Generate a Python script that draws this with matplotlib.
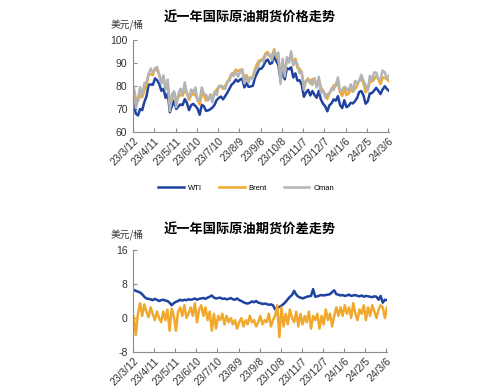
import matplotlib
matplotlib.use("Agg")
import matplotlib.pyplot as plt
import pandas as pd

plt.rcParams['font.family'] = ['Liberation Sans', 'Noto Sans CJK SC', 'DejaVu Sans']

# ---------------- data (sampled every 3 days from 2023-03-13) ----------------
start_date = "2023-03-13"

wti = [
    72.5, 68.0, 67.2, 70.0, 69.5, 73.0, 75.5,
    80.5, 80.7, 80.5, 83.3, 82.5, 80.9, 77.9, 78.8, 74.8, 76.8,
    68.6, 71.3, 73.7, 70.0, 71.1, 72.0, 71.7, 74.3, 72.7, 69.5,
    71.7, 72.2, 71.3, 70.2, 67.5, 71.8, 71.2, 69.2, 69.4, 69.9,
    70.6, 71.8, 73.9, 74.8, 75.4, 74.2, 75.6, 77.1, 78.8, 80.6,
    81.4, 82.8, 81.9, 82.8, 83.2, 79.4, 81.3, 79.6, 79.8, 80.1, 83.6,
    85.6, 87.5, 87.5, 88.8, 90.8, 91.5, 89.6, 90.0, 93.0, 90.8,
    89.2, 82.8, 86.4, 82.9, 87.7, 87.3, 88.1, 83.7, 85.5, 82.3,
    82.5, 80.5, 75.3, 77.2, 78.3, 75.9, 77.8, 76.1, 74.9, 77.9,
    74.1, 72.3, 71.2, 69.0, 71.6, 72.5, 74.2, 73.6, 75.6, 71.7,
    70.4, 73.8, 70.8, 71.4, 72.7, 72.4, 73.4, 74.8, 77.4, 77.8, 75.9,
    72.3, 73.3, 76.8, 76.9, 78.0, 79.2, 77.9, 76.5, 78.5,
    79.9, 78.7, 77.9,
]

brent_wti = [
    6.6, 6.4, 6.2, 6.0, 5.6, 5.0, 4.6,
    4.5, 4.4, 4.2, 4.5, 4.3, 4.0, 4.2, 4.3, 4.1, 4.0,
    3.6, 3.0, 3.5, 3.8, 4.0, 4.3, 4.1, 4.3, 4.2, 4.4,
    4.3, 4.4, 4.6, 4.3, 4.5, 4.6, 4.7, 4.5, 4.8, 5.0,
    5.3, 4.8, 4.6, 4.7, 4.8, 4.5, 4.6, 4.4, 4.5, 4.7,
    4.4, 4.3, 4.6, 4.2, 4.0, 3.7, 3.5, 3.4, 3.6, 3.9, 3.7,
    4.0, 3.6, 3.5, 3.3, 3.4, 3.3, 3.1, 3.2, 3.0, 2.0,
    2.4, 2.6, 2.9, 3.3, 3.8, 4.4, 5.0, 5.4, 6.4, 5.5,
    5.0, 4.8, 4.6, 4.8, 5.0, 5.1, 5.2, 6.8, 5.0, 5.1,
    5.3, 5.4, 5.3, 5.4, 5.5, 5.6, 6.1, 6.5, 5.6, 5.5,
    5.3, 5.4, 5.2, 5.3, 5.5, 5.2, 5.3, 5.4, 5.2, 5.1, 5.3,
    5.0, 5.2, 5.1, 5.0, 4.9, 5.1, 5.0, 4.3, 5.2,
    3.6, 4.3, 4.2,
]

oman_brent = [
    0.3, -4.0, 1.0, 3.5, 0.5, 3.2, 1.5,
    0.2, 2.5, 1.0, -0.5, 1.5, 0.0, -1.0, 1.5, -0.5, 2.0,
    -3.0, 2.2, 0.5, -3.0, 1.5, 2.5, 0.5, 3.0, 0.0, 1.0,
    2.5, 0.5, 3.5, -1.0, 2.0, 3.0, 0.5, 2.5, -0.5, 1.5,
    -3.0, 1.0, -2.5, 0.5, -0.5, 1.0, -1.5, 0.5, -1.0, 0.0,
    -1.5, -0.5, -2.5, -1.0, 0.0, -2.0, -0.5, -1.5, 0.5, -1.0, -0.5,
    -2.0, -1.0, 0.5, -1.5, -0.5, -1.0, 1.0, -2.0, -0.5, 0.5,
    3.0, -4.5, 2.5, -2.0, 1.0, -1.5, 2.0, 0.0, -1.0, 1.5,
    -2.0, 1.0, -1.5, 0.5, -1.0, 1.5, -2.5, 0.5, -0.5, 1.0,
    -2.5, 0.5, -1.5, 2.0, -0.5, 1.0, -2.0, 0.5, 2.5, 0.5,
    2.5, 0.5, 3.0, 1.0, 2.5, 0.0, 3.5, 1.0, -0.5, 2.0, 1.0,
    3.0, -0.5, 2.5, 0.5, 3.0, 1.5, 0.0, 2.0, 3.0,
    2.5, 0.0, 2.5,
]

tick_dates = ["2023-03-12", "2023-04-11", "2023-05-11", "2023-06-10", "2023-07-10",
              "2023-08-09", "2023-09-08", "2023-10-08", "2023-11-07", "2023-12-07",
              "2024-01-06", "2024-02-05", "2024-03-06"]
tick_labels = ["23/3/12", "23/4/11", "23/5/11", "23/6/10", "23/7/10", "23/8/9", "23/9/8",
               "23/10/8", "23/11/7", "23/12/7", "24/1/6", "24/2/5", "24/3/6"]

series_names = ["WTI", "Brent", "Oman"]
title_top = "近一年国际原油期货价格走势"
title_bottom = "近一年国际原油期货价差走势"
unit = "美元/桶"

# ---------------- derived ----------------
dates = pd.date_range(start_date, periods=len(wti), freq="3D")
brent = [w + s for w, s in zip(wti, brent_wti)]
oman = [b + s for b, s in zip(brent, oman_brent)]

C_WTI = "#1F43A0"
C_BRENT = "#F0A92E"
C_OMAN = "#B4B4B4"
AX_COL = "#8C8C8C"
CJK = ['Noto Sans CJK SC', 'DejaVu Sans']

fig = plt.figure(figsize=(4.99, 3.92), dpi=100)
fig.patch.set_facecolor("white")

ax1 = fig.add_axes([133/499, 1-132/392, 256/499, 92/392])
ax2 = fig.add_axes([133/499, 1-352/392, 254/499, 102/392])

xlim = (pd.Timestamp("2023-03-12"), pd.Timestamp("2024-03-07"))

def style(ax, yticks):
    for s in ["top", "right"]:
        ax.spines[s].set_visible(False)
    for s in ["left", "bottom"]:
        ax.spines[s].set_color(AX_COL)
        ax.spines[s].set_linewidth(0.8)
    ax.set_xlim(*xlim)
    ax.set_xticks(pd.to_datetime(tick_dates))
    ax.set_xticklabels(tick_labels, rotation=45, ha="right", rotation_mode="anchor",
                       fontsize=7.5, color="#333333")
    ax.set_yticks(yticks)
    ax.set_yticklabels([str(v) for v in yticks], fontsize=7.5, color="#333333")
    ax.set_ylim(yticks[0], yticks[-1])
    ax.tick_params(axis="both", direction="in", color=AX_COL, length=3, width=0.8)
    ax.tick_params(axis="x", pad=3)
    ax.tick_params(axis="y", pad=4)

ax1.plot(dates, wti, color=C_WTI, lw=1.8, label=series_names[0])
ax1.plot(dates, brent, color=C_BRENT, lw=1.8, label=series_names[1])
ax1.plot(dates, oman, color=C_OMAN, lw=1.8, label=series_names[2])
style(ax1, [60, 70, 80, 90, 100])

ax2.plot(dates, brent_wti, color=C_WTI, lw=1.8)
ax2.plot(dates, oman_brent, color=C_BRENT, lw=1.8)
style(ax2, [-8, 0, 8, 16])

fig.text(250/499, 1-18/392, title_top, ha="center", va="center", fontsize=9.5,
         fontweight="bold", family=CJK)
fig.text(250/499, 1-230/392, title_bottom, ha="center", va="center", fontsize=9.5,
         fontweight="bold", family=CJK)
fig.text(111/499, 1-25/392, unit, ha="left", va="center", fontsize=7, family=CJK,
         color="#333333")
fig.text(111/499, 1-235/392, unit, ha="left", va="center", fontsize=7, family=CJK,
         color="#333333")

fig.legend(loc="center", bbox_to_anchor=(246/499, 1-188/392), ncol=3, frameon=False,
           fontsize=5.5, handlelength=3.4, columnspacing=2.2, handletextpad=0.5)

fig.savefig("out.png", dpi=100, facecolor="white")
